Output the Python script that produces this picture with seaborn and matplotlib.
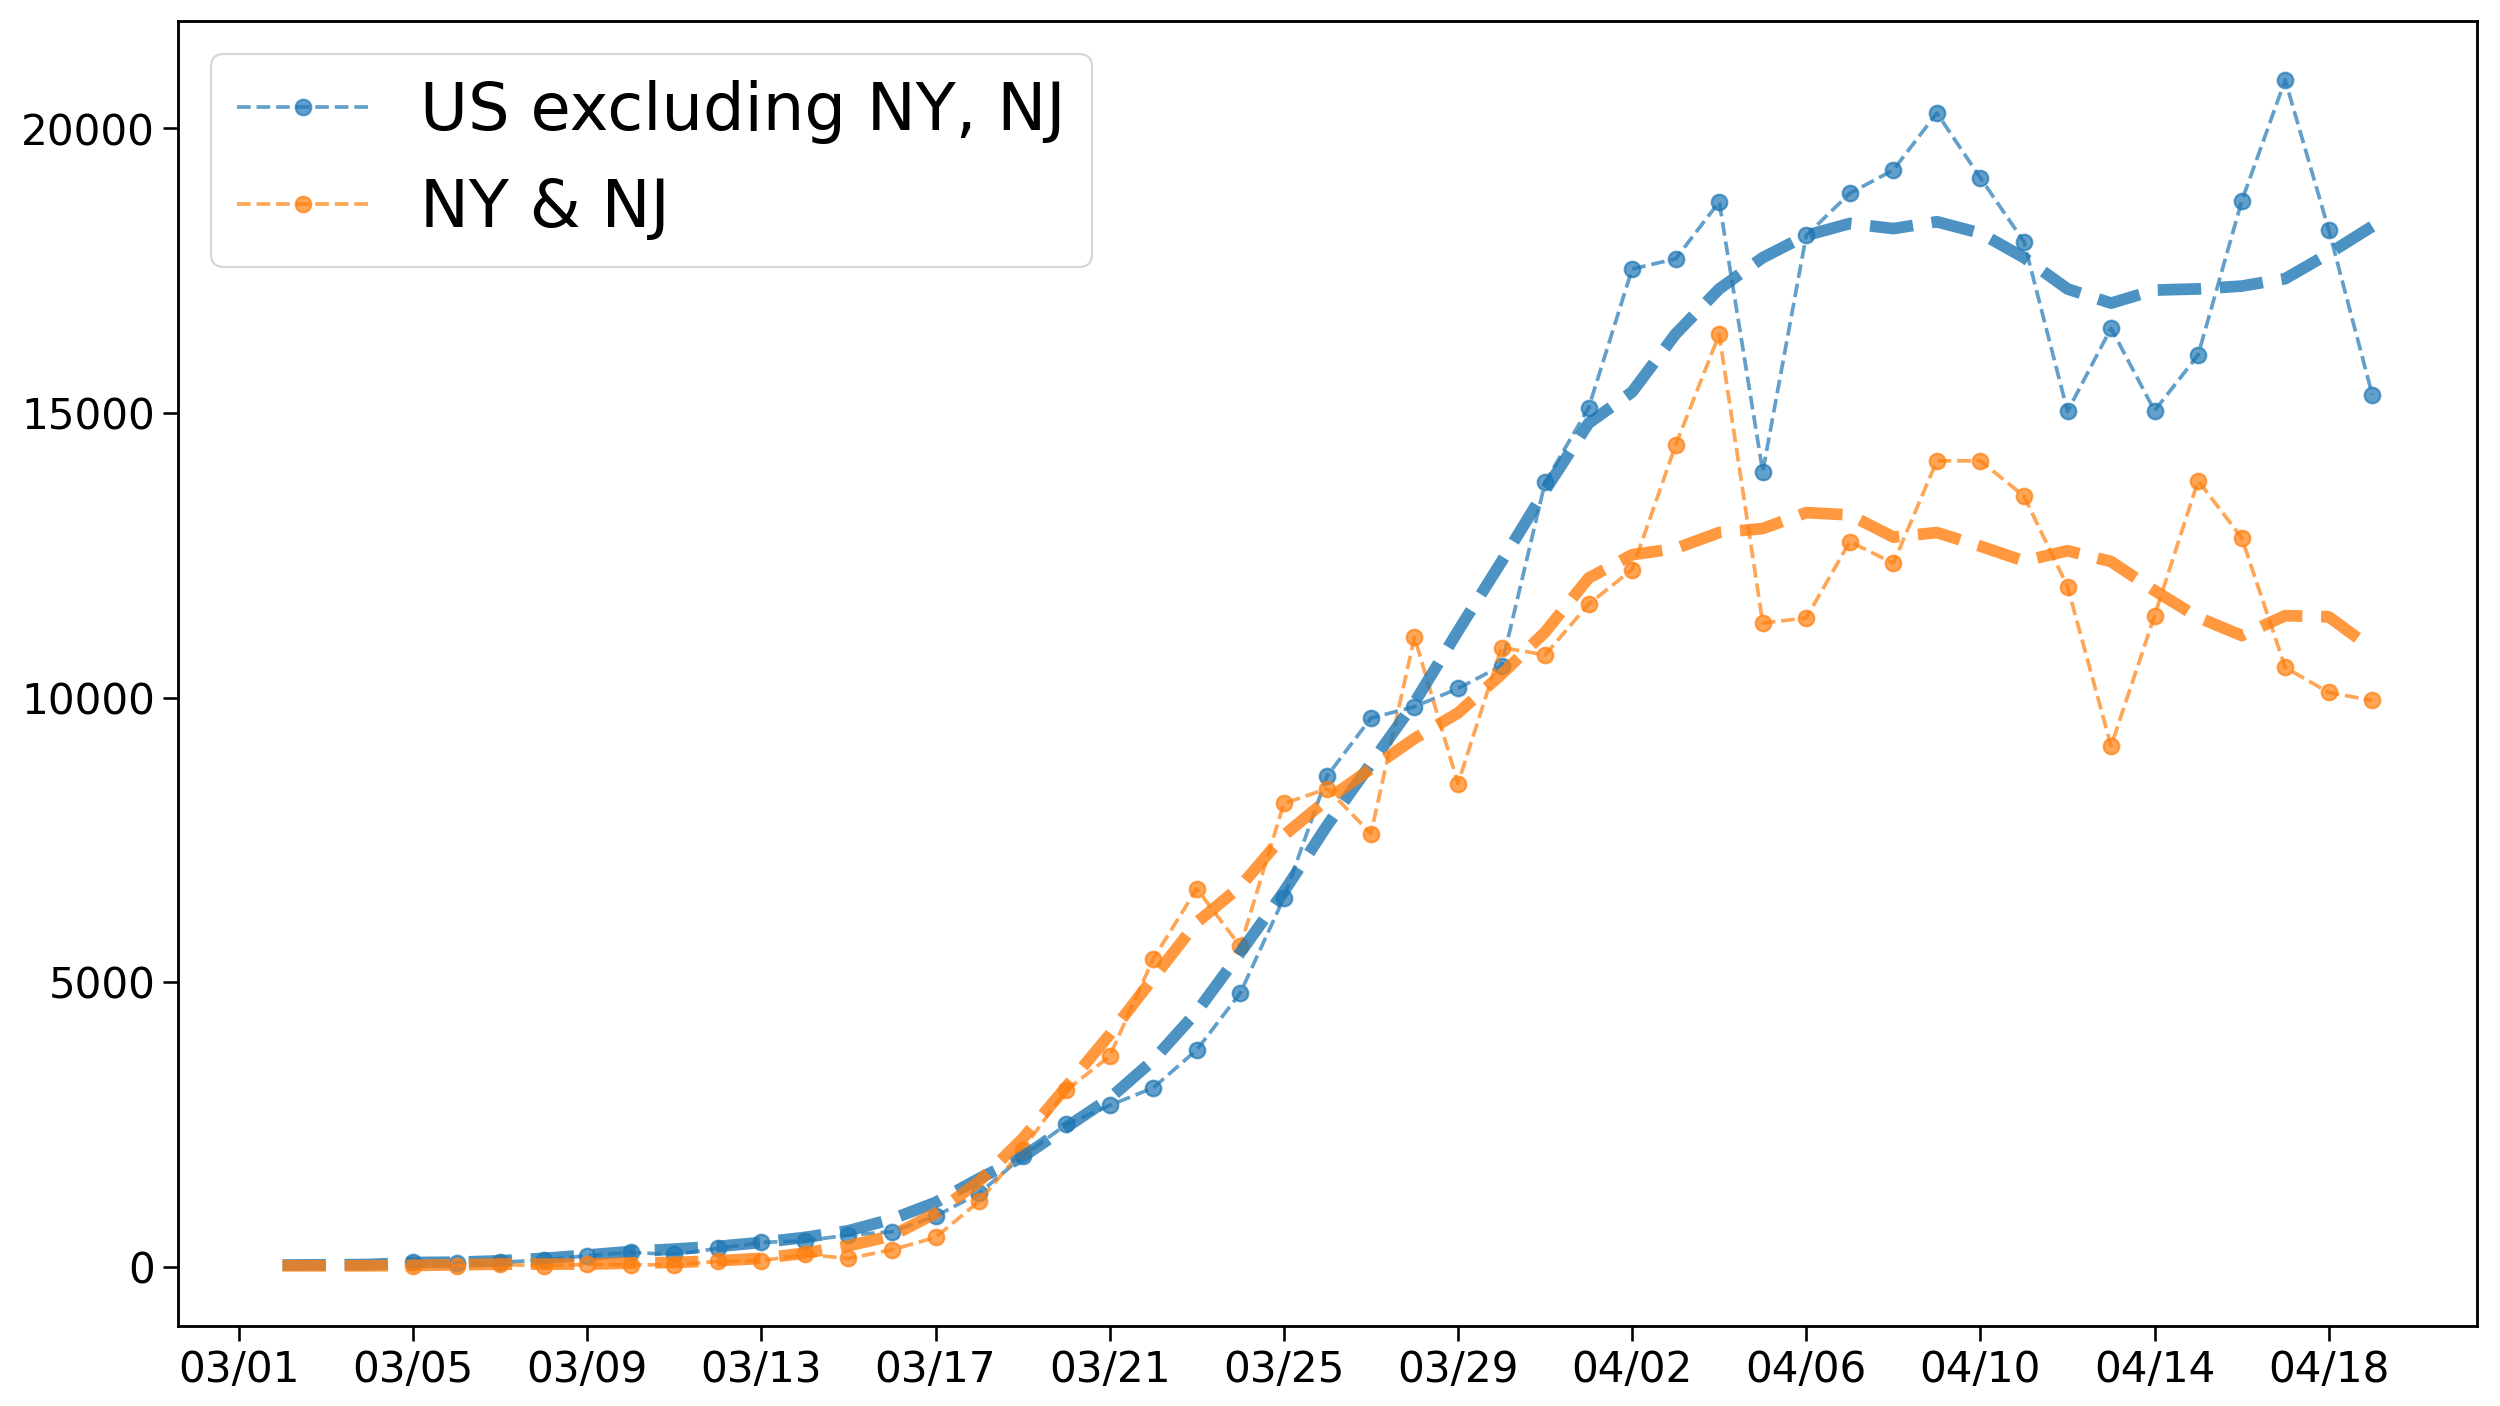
import numpy as np
import pandas as pd
import matplotlib
matplotlib.use("Agg")
import matplotlib.pyplot as plt
import matplotlib.dates as mdates
import seaborn as sns

# ---- data ----
daily_dates = pd.date_range("2020-03-05", "2020-04-19", freq="D")
smooth_dates = pd.date_range("2020-03-02", "2020-04-19", freq="D")

us_excl_daily = [90, 65, 76, 123, 194, 252, 217, 322, 428, 457, 557, 616, 890, 1290,
                 1940, 2500, 2835, 3145, 3810, 4810, 6480, 8630, 9640, 9840, 10160,
                 10560, 13780, 15090, 17530, 17710, 18710, 13970, 18120, 18860, 19270,
                 20270, 19130, 18010, 15030, 16490, 15040, 16020, 18720, 20850, 18220,
                 15320]
nynj_daily = [10, 18, 41, 18, 41, 35, 35, 94, 106, 217, 147, 299, 516, 1150, 2060,
              3100, 3700, 5410, 6640, 5630, 8140, 8400, 7610, 11060, 8490, 10880,
              10750, 11640, 12250, 14440, 16380, 11310, 11400, 12740, 12360, 14160,
              14160, 13540, 11950, 9150, 11440, 13810, 12810, 10530, 10090, 9950]

us_excl_smooth = [30, 35, 40, 76, 80, 105, 147, 205, 270, 311, 358, 428, 516, 633, 839,
                  1130, 1550, 1930, 2450, 2960, 3630, 4480, 5520, 6590, 7760, 8840,
                  9910, 11170, 12390, 13640, 14820, 15370, 16390, 17180, 17730, 18120,
                  18330, 18240, 18360, 18160, 17730, 17180, 16930, 17160, 17180, 17230,
                  17360, 17800, 18280]
nynj_smooth = [18, 18, 18, 23, 35, 47, 47, 47, 65, 76, 106, 147, 240, 369, 545, 940,
               1500, 2250, 3160, 4080, 5070, 6050, 6680, 7580, 8210, 8750, 9280, 9730,
               10410, 11150, 12100, 12510, 12620, 12900, 12970, 13250, 13210, 12820,
               12900, 12660, 12400, 12580, 12390, 11880, 11410, 11090, 11440, 11420,
               10860]

series_labels = ["US excluding NY, NJ", "NY & NJ"]
tick_dates = pd.date_range("2020-03-01", "2020-04-18", freq="4D")

# ---- plot ----
plt.rcParams["font.family"] = ["DejaVu Sans"]
fig = plt.figure(figsize=(16, 9), dpi=156.25)
ax = fig.add_axes([0.0712, 0.0569, 0.9195, 0.9281])

blue = "#1f77b4"
orange = "#ff7f0e"

df_us = pd.DataFrame({"date": daily_dates, "value": us_excl_daily})
df_ny = pd.DataFrame({"date": daily_dates, "value": nynj_daily})
sm_us = pd.DataFrame({"date": smooth_dates, "value": us_excl_smooth})
sm_ny = pd.DataFrame({"date": smooth_dates, "value": nynj_smooth})

sns.lineplot(data=df_us, x="date", y="value", ax=ax, color=blue, linestyle="--",
             linewidth=1.7, marker="o", markersize=7.2, markeredgecolor=blue,
             markeredgewidth=1.0, alpha=0.7, label=series_labels[0])
sns.lineplot(data=df_ny, x="date", y="value", ax=ax, color=orange, linestyle="--",
             linewidth=1.7, marker="o", markersize=7.2, markeredgecolor=orange,
             markeredgewidth=1.0, alpha=0.7, label=series_labels[1])
sns.lineplot(data=sm_us, x="date", y="value", ax=ax, color=blue, linestyle="--",
             linewidth=5.4, alpha=0.8, legend=False)
sns.lineplot(data=sm_ny, x="date", y="value", ax=ax, color=orange, linestyle="--",
             linewidth=5.4, alpha=0.8, legend=False)

ax.set_xticks(tick_dates)
ax.xaxis.set_major_formatter(mdates.DateFormatter("%m/%d"))
ax.set_xlabel("")
ax.set_ylabel("")
ax.tick_params(axis="both", labelsize=19.4, length=7, width=1.2)
for sp in ax.spines.values():
    sp.set_linewidth(1.3)
    sp.set_color("black")

ax.set_xlim(mdates.date2num(pd.Timestamp("2020-03-02")) - 2.4,
            mdates.date2num(pd.Timestamp("2020-04-19")) + 2.4)
ax.set_ylim(-1040, 21890)

leg = ax.legend(loc="upper left", fontsize=30.2, frameon=True)

fig.savefig("out.png", dpi=156.25)
